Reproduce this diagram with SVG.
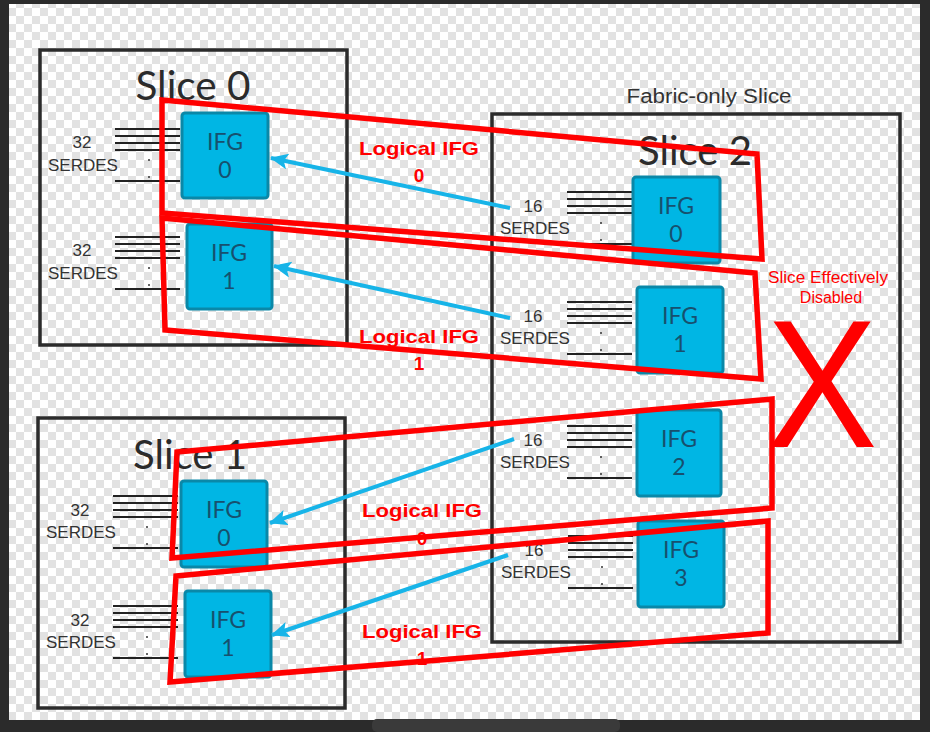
<svg xmlns="http://www.w3.org/2000/svg" xmlns:xlink="http://www.w3.org/1999/xlink" width="930" height="732" viewBox="0 0 930 732">
<style>
.box{fill:none;stroke:#2b2b2b;stroke-width:3.5}
.title{font-family:Lato,"Open Sans",sans-serif;font-size:40px;fill:#2b2b2b;text-anchor:middle}
.ifg rect{fill:#00b6e4;stroke:#0a88a8;stroke-width:3}
.ifg text{font-family:Lato,"Open Sans",sans-serif;font-size:23px;fill:#17506e;text-anchor:middle}
.sl{stroke:#222;stroke-width:2}
.lbl{font-family:"Liberation Sans",Arial,sans-serif;font-size:17px;fill:#333;text-anchor:middle}
.red{font-family:"Liberation Sans",Arial,sans-serif;font-weight:bold;font-size:19px;fill:#ff0000;text-anchor:middle}
.poly{fill:none;stroke:#ff0000;stroke-width:5.5;stroke-linejoin:miter}
.conn{stroke:#17b4e8;stroke-width:4;fill:none}
</style>
<defs>
<pattern id="checker" patternUnits="userSpaceOnUse" width="16" height="16">
<rect width="16" height="16" fill="#ffffff"/>
<rect width="8" height="8" fill="#e2e2e2"/>
<rect x="8" y="8" width="8" height="8" fill="#e2e2e2"/>
</pattern>
<marker id="ah" markerUnits="userSpaceOnUse" markerWidth="20" markerHeight="18" refX="17" refY="8" orient="auto">
<path d="M0,0 L18,8 L0,16 L4,8 z" fill="#17b4e8"/>
</marker>
<g id="serdes">
<line class="sl" x1="0" y1="0" x2="65" y2="0"/>
<line class="sl" x1="0" y1="7" x2="65" y2="7"/>
<line class="sl" x1="0" y1="14" x2="65" y2="14"/>
<line class="sl" x1="0" y1="21" x2="65" y2="21"/>
<line class="sl" x1="0" y1="52" x2="65" y2="52"/>
<circle cx="34" cy="31" r="1" fill="#333"/>
<circle cx="34" cy="48" r="1" fill="#333"/>
</g>
</defs>

<rect width="930" height="732" fill="#2b2b2b"/>
<rect x="9" y="4" width="911" height="716" fill="url(#checker)"/>
<rect x="372" y="719" width="248" height="13" rx="5" fill="#3a3a3a"/>

<g id="slice0">
<rect class="box" x="40" y="50" width="307" height="295"/>
<text class="title" x="193" y="100" textLength="115" lengthAdjust="spacingAndGlyphs">Slice 0</text>
<use xlink:href="#serdes" x="115" y="129"/>
<text class="lbl" x="82" y="148">32</text>
<text class="lbl" x="83" y="171">SERDES</text>
<use xlink:href="#serdes" x="115" y="237"/>
<text class="lbl" x="82" y="256">32</text>
<text class="lbl" x="83" y="279">SERDES</text>
</g>
<g id="slice0-ifg0" class="ifg">
<rect x="182" y="113" width="86" height="85" rx="3"/>
<text x="225" y="150">IFG</text>
<text x="225" y="178">0</text>
</g>
<g id="slice0-ifg1" class="ifg">
<rect x="187" y="224" width="85" height="85" rx="3"/>
<text x="229" y="261">IFG</text>
<text x="229" y="289">1</text>
</g>

<g id="slice1">
<rect class="box" x="38" y="418" width="307" height="290"/>
<text class="title" x="190" y="469" textLength="114" lengthAdjust="spacingAndGlyphs">Slice 1</text>
<use xlink:href="#serdes" x="113" y="496"/>
<text class="lbl" x="80" y="516">32</text>
<text class="lbl" x="81" y="538">SERDES</text>
<use xlink:href="#serdes" x="113" y="606"/>
<text class="lbl" x="80" y="626">32</text>
<text class="lbl" x="81" y="648">SERDES</text>
</g>
<g id="slice1-ifg0" class="ifg">
<rect x="181" y="481" width="86" height="86" rx="3"/>
<text x="224" y="518">IFG</text>
<text x="224" y="546">0</text>
</g>
<g id="slice1-ifg1" class="ifg">
<rect x="185" y="591" width="86" height="86" rx="3"/>
<text x="228" y="628">IFG</text>
<text x="228" y="656">1</text>
</g>

<g id="slice2">
<text x="709" y="103" font-family="'Liberation Sans',Arial,sans-serif" font-size="20px" fill="#333" text-anchor="middle" textLength="165" lengthAdjust="spacingAndGlyphs">Fabric-only Slice</text>
<rect class="box" x="492" y="114" width="408" height="528"/>
<text class="title" x="695" y="165" textLength="114" lengthAdjust="spacingAndGlyphs">Slice 2</text>
<use xlink:href="#serdes" x="567" y="192"/>
<text class="lbl" x="533" y="212">16</text>
<text class="lbl" x="535" y="234">SERDES</text>
<use xlink:href="#serdes" x="567" y="302"/>
<text class="lbl" x="533" y="322">16</text>
<text class="lbl" x="535" y="344">SERDES</text>
<use xlink:href="#serdes" x="567" y="426"/>
<text class="lbl" x="533" y="446">16</text>
<text class="lbl" x="535" y="468">SERDES</text>
<use xlink:href="#serdes" x="568" y="536"/>
<text class="lbl" x="534" y="556">16</text>
<text class="lbl" x="536" y="578">SERDES</text>
</g>
<g id="slice2-ifg0" class="ifg">
<rect x="633" y="177" width="87" height="86" rx="3"/>
<text x="676" y="214">IFG</text>
<text x="676" y="242">0</text>
</g>
<g id="slice2-ifg1" class="ifg">
<rect x="637" y="287" width="86" height="86" rx="3"/>
<text x="680" y="324">IFG</text>
<text x="680" y="352">1</text>
</g>
<g id="slice2-ifg2" class="ifg">
<rect x="637" y="410" width="84" height="86" rx="3"/>
<text x="679" y="447">IFG</text>
<text x="679" y="475">2</text>
</g>
<g id="slice2-ifg3" class="ifg">
<rect x="638" y="521" width="86" height="86" rx="3"/>
<text x="681" y="558">IFG</text>
<text x="681" y="586">3</text>
</g>

<g id="labels">
<text class="red" x="419" y="155" textLength="120" lengthAdjust="spacingAndGlyphs">Logical IFG</text>
<text class="red" x="419" y="182">0</text>
<text class="red" x="419" y="343" textLength="120" lengthAdjust="spacingAndGlyphs">Logical IFG</text>
<text class="red" x="419" y="370">1</text>
<text class="red" x="422" y="517" textLength="120" lengthAdjust="spacingAndGlyphs">Logical IFG</text>
<text class="red" x="422" y="545">0</text>
<text class="red" x="422" y="638" textLength="120" lengthAdjust="spacingAndGlyphs">Logical IFG</text>
<text class="red" x="422" y="665">1</text>
<text x="828" y="283" font-family="'Liberation Sans',Arial,sans-serif" font-size="16px" fill="#ff0000" text-anchor="middle" textLength="120" lengthAdjust="spacingAndGlyphs">Slice Effectively</text>
<text x="831" y="303" font-family="'Liberation Sans',Arial,sans-serif" font-size="16px" fill="#ff0000" text-anchor="middle">Disabled</text>
<text x="822" y="447" font-family="'Liberation Sans',Arial,sans-serif" font-size="181px" fill="#ff0000" text-anchor="middle" textLength="111" lengthAdjust="spacingAndGlyphs">X</text>
</g>

<g id="connectors">
<line class="conn" x1="510" y1="208" x2="271" y2="158" marker-end="url(#ah)"/>
<line class="conn" x1="510" y1="318" x2="274" y2="266" marker-end="url(#ah)"/>
<line class="conn" x1="514" y1="439" x2="270" y2="523" marker-end="url(#ah)"/>
<line class="conn" x1="508" y1="555" x2="272" y2="635" marker-end="url(#ah)"/>
</g>

<g id="logical-ifg-outlines">
<polygon class="poly" points="162,100 757,154 762,259 162,213"/>
<polygon class="poly" points="162,218 755,273 761,379 165,330"/>
<polygon class="poly" points="177,452 772,399 772,508 172,558"/>
<polygon class="poly" points="176,576 768,521 768,633 170,682"/>
</g>
</svg>
